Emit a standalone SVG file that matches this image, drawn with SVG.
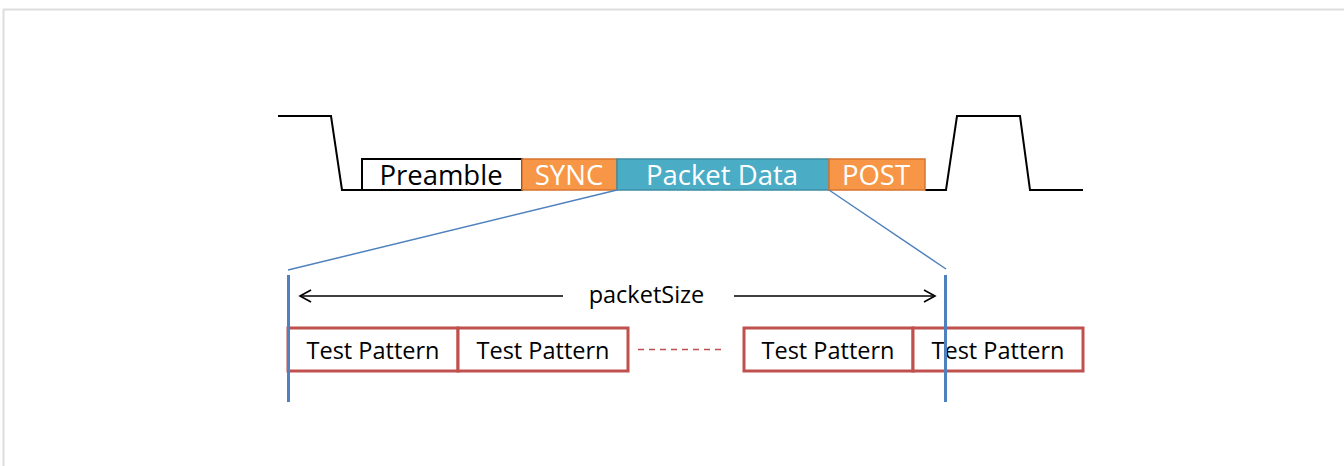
<svg xmlns="http://www.w3.org/2000/svg" width="1344" height="466" viewBox="0 0 1344 466">
<style>
.t{font-family:"Open Sans","Noto Sans",sans-serif;text-anchor:middle}
.top{font-size:27.5px}
.w{fill:#ffffff}
.k{fill:#000000}
.tp{font-size:23.5px;fill:#000}
.wave{fill:none;stroke:#000;stroke-width:2}
.blue{stroke:#4F81BD;fill:none}
.red{fill:#ffffff;stroke:#C0504D;stroke-width:3}
</style>
<defs>
<marker id="arr" markerWidth="14" markerHeight="14" refX="12" refY="7" orient="auto-start-reverse" markerUnits="userSpaceOnUse">
<path d="M1,1 L12,7 L1,13" fill="none" stroke="#000" stroke-width="1.6"/>
</marker>
</defs>
<rect width="1344" height="466" fill="#ffffff"/>
<g id="frame">
<line x1="3" y1="9.5" x2="1344" y2="9.5" stroke="#dddddd" stroke-width="2"/>
<line x1="3.5" y1="9" x2="3.5" y2="466" stroke="#dddddd" stroke-width="2"/>
</g>
<g id="waveform">
<polyline class="wave" points="278,116 331,116 342,190 362,190"/>
<polyline class="wave" points="925,190 946,190 957,116 1020,116 1030,190 1083,190"/>
</g>
<g id="preamble">
<rect x="362" y="159" width="160" height="31" fill="#ffffff" stroke="#000" stroke-width="2"/>
<text class="t top k" x="441" y="185">Preamble</text>
</g>
<g id="sync">
<rect x="522" y="159" width="95" height="31" fill="#F79646" stroke="#D8742F" stroke-width="1.5"/>
<text class="t top w" x="569" y="185">SYNC</text>
</g>
<g id="packetdata">
<rect x="617" y="159" width="212" height="31" fill="#4BACC6" stroke="#3C8DA3" stroke-width="1.5"/>
<text class="t top w" x="722" y="185">Packet Data</text>
</g>
<g id="post">
<rect x="829" y="159" width="96" height="31" fill="#F79646" stroke="#D8742F" stroke-width="1.5"/>
<text class="t top w" x="876" y="185">POST</text>
</g>
<g id="tp1">
<rect class="red" x="288" y="328" width="170" height="43"/>
<text class="t tp" x="373" y="359">Test Pattern</text>
</g>
<g id="tp2">
<rect class="red" x="458" y="328" width="170" height="43"/>
<text class="t tp" x="543" y="359">Test Pattern</text>
</g>
<g id="tp3">
<rect class="red" x="744" y="328" width="169" height="43"/>
<text class="t tp" x="828" y="359">Test Pattern</text>
</g>
<g id="tp4">
<rect class="red" x="913" y="328" width="170" height="43"/>
<text class="t tp" x="998" y="359">Test Pattern</text>
</g>
<g id="connectors">
<line class="blue" x1="617" y1="190" x2="288" y2="270" stroke-width="1.5"/>
<line class="blue" x1="829" y1="190" x2="946" y2="269" stroke-width="1.5"/>
<line class="blue" x1="288.5" y1="275" x2="288.5" y2="402" stroke-width="3"/>
<line class="blue" x1="945.5" y1="275" x2="945.5" y2="402" stroke-width="3"/>
<line x1="563" y1="296" x2="300" y2="296" stroke="#000" stroke-width="1.6" marker-end="url(#arr)"/>
<line x1="734" y1="296" x2="935" y2="296" stroke="#000" stroke-width="1.6" marker-end="url(#arr)"/>
<line x1="638" y1="349.5" x2="722" y2="349.5" stroke="#C0504D" stroke-width="1.3" stroke-dasharray="6,5"/>
</g>
<g id="label">
<text class="t" x="646.5" y="303" font-size="23.5" fill="#000">packetSize</text>
</g>
</svg>
